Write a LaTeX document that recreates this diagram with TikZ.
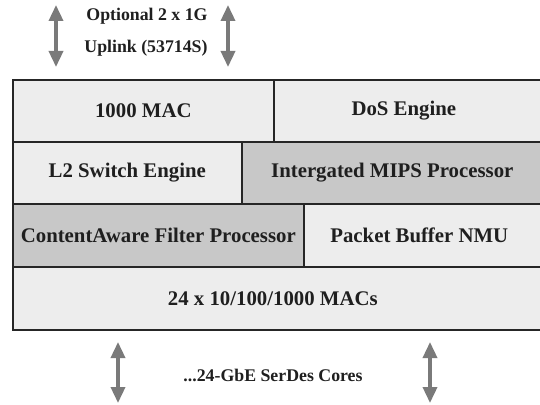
\documentclass[tikz,border=0pt]{standalone}
\usepackage{fontspec}
\setmainfont{Liberation Serif}
\usetikzlibrary{arrows.meta}

\definecolor{panel}{HTML}{EDEDED}
\definecolor{panelDark}{HTML}{C8C8C8}
\definecolor{frame}{HTML}{262626}
\definecolor{link}{HTML}{7A7A7A}

\begin{document}
\begin{tikzpicture}[x=1pt,y=-1pt,
  block/.style={draw=frame, line width=1.6pt, fill=panel, inner sep=0pt,
    font=\bfseries\fontsize{20.8}{24}\selectfont, text=black!88},
  darkblock/.style={block, fill=panelDark},
  caption/.style={font=\bfseries\fontsize{17.8}{21}\selectfont, text=black!88, inner sep=0pt},
  biarrow/.style={draw=link, line width=3.5pt,
    {Triangle[width=14pt,length=16pt]}-{Triangle[width=14pt,length=16pt]}}]

  \useasboundingbox (0,0) rectangle (540,404);
  \begin{scope}
  \clip (0,0) rectangle (540,404);

  % row 1 (boxes on the right run off the page edge; their labels sit a bit left)
  \node[block, minimum width=261pt, minimum height=62pt, anchor=north west] (mac) at (12,79) {1000 MAC};
  \node[block, minimum width=270pt, minimum height=62pt, anchor=north west] (dos) at (273,79) {DoS Engine\hspace*{10pt}};
  % row 2
  \node[block, minimum width=229pt, minimum height=62pt, anchor=north west] (l2) at (12,141) {L2 Switch Engine};
  \node[darkblock, minimum width=301pt, minimum height=62pt, anchor=north west] (mips) at (241,141) {Intergated MIPS Processor};
  % row 3
  \node[darkblock, minimum width=291pt, minimum height=63pt, anchor=north west] (cafp) at (12,203) {ContentAware Filter Processor};
  \node[block, minimum width=239pt, minimum height=63pt, anchor=north west] (pbuf) at (303,203) {Packet Buffer NMU\hspace*{8pt}};
  % row 4
  \node[block, minimum width=530pt, minimum height=63pt, anchor=north west] (macs) at (12,266) {24 x 10/100/1000 MACs\hspace*{10pt}};
  \end{scope}

  % uplink labels and arrows
  \node[caption] (opt) at (147,16) {Optional 2 x 1G};
  \node[caption] (upl) at (146,48) {Uplink (53714S)};
  \coordinate (ua1) at (56,5);  \coordinate (ub1) at (56,67);
  \coordinate (ua2) at (228,5); \coordinate (ub2) at (228,67);
  \draw[biarrow] (ua1) -- (ub1);
  \draw[biarrow] (ua2) -- (ub2);

  % serdes labels and arrows
  \node[caption] (serdes) at (273,375) {...24-GbE SerDes Cores};
  \coordinate (da1) at (118,342); \coordinate (db1) at (118,403);
  \coordinate (da2) at (430,342); \coordinate (db2) at (430,403);
  \draw[biarrow] (da1) -- (db1);
  \draw[biarrow] (da2) -- (db2);
\end{tikzpicture}
\end{document}
